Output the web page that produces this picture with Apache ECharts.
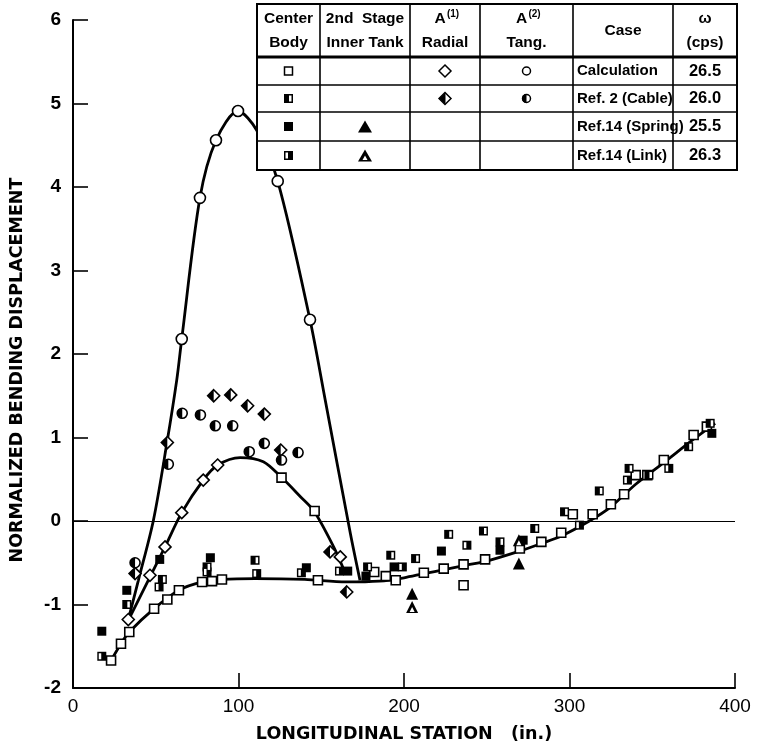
<!DOCTYPE html>
<html><head><meta charset="utf-8">
<script src="https://cdn.jsdelivr.net/npm/echarts@6/dist/echarts.min.js"></script>
<style>html,body{margin:0;padding:0;background:#fff}#c{width:763px;height:751px}</style>
</head><body><div id="c"></div><script>
const xTicks=[0,100,200,300,400];
const yTicks=[-2,-1,0,1,2,3,4,5,6];
const xTitle='LONGITUDINAL STATION   (in.)';
const yTitle='NORMALIZED BENDING DISPLACEMENT';
// curves
const tangCurve=[[33.4,-1.18],[39.5,-0.71],[48.6,0.01],[56.7,0.93],[62.7,1.69],[65.7,2.18],[76.7,3.87],[86.4,4.56],[99.7,4.91],[111,4.68],[123.7,4.07],[143.2,2.41],[152.4,1.45],[167.6,-0.15],[173.4,-0.71]];
const radialCurve=[[33.4,-1.19],[55.6,-0.31],[65.7,0.10],[78.7,0.49],[87.4,0.67],[101,0.76],[115,0.71],[126.1,0.52],[137,0.30],[145.6,0.12],[157.5,-0.31],[164,-0.60]];
const bodyCurve=[[23,-1.67],[29,-1.47],[34,-1.33],[49,-1.05],[64,-0.83],[78,-0.73],[90,-0.70],[110,-0.69],[140,-0.70],[165,-0.73],[185,-0.72],[200,-0.68],[212,-0.63],[225,-0.58],[237,-0.53],[250,-0.48],[270,-0.36],[283,-0.27],[295,-0.18],[312,0.0],[325,0.17],[340,0.44],[357,0.70],[375,0.98],[388,1.17]];
// markers
const calcBodyPts=[[23,-1.67],[29,-1.47],[34,-1.33],[49,-1.05],[57,-0.94],[64,-0.83],[78,-0.73],[84,-0.72],[90,-0.70],[126,0.52],[146,0.12],[148,-0.71],[182,-0.61],[189,-0.66],[195,-0.71],[212,-0.62],[224,-0.57],[236,-0.52],[236,-0.77],[249,-0.46],[270,-0.33],[283,-0.25],[295,-0.14],[302,0.08],[314,0.08],[325,0.20],[333,0.32],[340,0.55],[347,0.55],[357,0.73],[375,1.03],[383,1.13]];
const calcRadialPts=[[33.4,-1.18],[46.5,-0.65],[55.6,-0.31],[65.7,0.10],[78.7,0.49],[87.4,0.67],[161.5,-0.43]];
const calcTangPts=[[65.7,2.18],[76.7,3.87],[86.4,4.56],[99.7,4.91],[123.7,4.07],[143.2,2.41]];
const cableSqPts=[[32.5,-1.0],[54,-0.70],[81,-0.55],[110,-0.47],[178,-0.55],[192,-0.41],[207,-0.45],[227,-0.16],[248,-0.12],[258,-0.25],[279,-0.09],[297,0.11],[318,0.36],[336,0.63],[348,0.55],[372,0.89],[385,1.17]];
const springSqPts=[[17.4,-1.32],[32.5,-0.83],[52.4,-0.46],[83,-0.44],[141,-0.56],[166,-0.60],[177,-0.66],[194,-0.55],[222.6,-0.36],[258,-0.35],[272,-0.23],[386,1.05]];
const linkSqPts=[[17.4,-1.62],[52,-0.79],[81,-0.61],[111,-0.63],[138,-0.62],[161,-0.60],[199,-0.55],[238,-0.29],[306,-0.05],[335,0.49],[360,0.63]];
const cableDiaPts=[[37.5,-0.63],[57,0.94],[85,1.50],[95.3,1.51],[105.5,1.38],[115.6,1.28],[125.5,0.85],[155.3,-0.37],[165.4,-0.85]];
const cableCirPts=[[37.5,-0.5],[57.6,0.68],[66,1.29],[77,1.27],[86,1.14],[96.5,1.14],[106.5,0.83],[115.6,0.93],[126,0.73],[136,0.82]];
const springTriPts=[[204.9,-0.87],[269.4,-0.51]];
const linkTriPts=[[204.9,-1.03],[269.4,-0.23]];
// table text
const tableHeads=[["Center","Body"],["2nd  Stage","Inner Tank"],["","Radial"],["","Tang."],["Case"],["ω","(cps)"]];
const caseNames=["Calculation","Ref. 2 (Cable)","Ref.14 (Spring)","Ref.14 (Link)"];
const omegas=["26.5","26.0","25.5","26.3"];

const FONT='"Liberation Sans", Arial, sans-serif';
const TFONT='"DejaVu Sans", sans-serif';
const HALF_CIRCLE='path://M10,0 C4.48,0 0,4.48 0,10 C0,15.52 4.48,20 10,20 Z';
const HALF_DIAMOND='path://M10,0 L0,10 L10,20 Z';

function curve(d){return {type:'line',data:d,smooth:0.3,symbol:'none',lineStyle:{color:'#000',width:2.8},z:2,silent:true};}
function sc(d,symbol,size,fill,border,offset,z){
  return {type:'scatter',data:d,symbol:symbol,symbolSize:size,symbolOffset:offset||[0,0],
    itemStyle:{color:fill,borderColor:'#000',borderWidth:border,opacity:1},z:z||3,silent:true};
}
const series=[
  Object.assign(curve(bodyCurve),{markLine:{silent:true,symbol:['none','none'],label:{show:false},
     lineStyle:{color:'#000',width:1.2,type:'solid'},data:[{yAxis:0}]}}),
  curve(radialCurve),
  curve(tangCurve),
  sc(calcBodyPts,'rect',9,'#fff',1.6),
  sc(calcRadialPts,'diamond',12,'#fff',1.6),
  sc(calcTangPts,'circle',11,'#fff',1.6),
  sc(cableSqPts,'rect',9,'#000',0,null,4),
  sc(cableSqPts,'rect',[2.5,6],'#fff',0,[1.8,0],5),
  sc(springSqPts,'rect',9,'#000',0,null,4),
  sc(linkSqPts,'rect',9,'#000',0,null,4),
  sc(linkSqPts,'rect',[2.5,6],'#fff',0,[-1.8,0],5),
  sc(cableDiaPts,'diamond',12,'#fff',1.6,null,4),
  sc(cableDiaPts,HALF_DIAMOND,[6,12],'#000',0,[-3,0],5),
  sc(cableCirPts,'circle',10,'#fff',1.6,null,4),
  sc(cableCirPts,HALF_CIRCLE,[5,10],'#000',0,[-2.5,0],5),
  sc(springTriPts,'triangle',12,'#000',0,null,4),
  sc(linkTriPts,'triangle',12,'#000',0,null,4),
  sc(linkTriPts,'triangle',[5,5],'#fff',0,[0,2.5],5)
];

// table graphic
const cols=[257,320,410,480,573,673,737];
const rows=[4,57,85,112,141,170];
const G=[];
const Z=100;
G.push({type:'rect',z:Z,shape:{x:cols[0],y:rows[0],width:cols[6]-cols[0],height:rows[5]-rows[0]},style:{fill:'#fff',stroke:'#000',lineWidth:2}});
for(let i=1;i<cols.length-1;i++)G.push({type:'line',z:Z+1,shape:{x1:cols[i],y1:rows[0],x2:cols[i],y2:rows[5]},style:{stroke:'#000',lineWidth:1.6}});
for(let j=1;j<rows.length-1;j++)G.push({type:'line',z:Z+1,shape:{x1:cols[0],y1:rows[j],x2:cols[6],y2:rows[j]},style:{stroke:'#000',lineWidth:j===1?3:1.6}});
function txt(t,x,y,size,align,font){G.push({type:'text',z:Z+2,style:{text:t,x:x,y:y,fill:'#000',font:'bold '+size+'px '+(font||FONT),textAlign:align||'center',textVerticalAlign:'middle',align:align||'center',verticalAlign:'middle'}});}
tableHeads.forEach((h,i)=>{
  const cx=(cols[i]+cols[i+1])/2;
  if(h.length===1){txt(h[0],cx,31,15.5);}
  else{txt(h[0],cx,19,15.5);txt(h[1],cx,43,15.5);}
});
[[2,'(1)'],[3,'(2)']].forEach(([i,s])=>{
  const cx=(cols[i]+cols[i+1])/2;
  txt('A',cx-5,19,15.5);
  txt(s,cx+8,14,10);
});
const rc=[71,98.5,126.5,155.5];
caseNames.forEach((t,j)=>txt(t,cols[4]+4,rc[j],15,'left'));
omegas.forEach((t,j)=>txt(t,(cols[5]+cols[6])/2,rc[j],16.5));
const c1=(cols[0]+cols[1])/2, c2=(cols[1]+cols[2])/2, c3=(cols[2]+cols[3])/2, c4=(cols[3]+cols[4])/2;
function box(x,y,w,h,fill,lw){G.push({type:'rect',z:Z+2,shape:{x:x,y:y,width:w,height:h},style:{fill:fill,stroke:lw?'#000':null,lineWidth:lw||0}});}
box(c1-4,rc[0]-4,8,8,'#fff',1.5);
G.push({type:'polygon',z:Z+2,shape:{points:[[c3,rc[0]-6],[c3+6,rc[0]],[c3,rc[0]+6],[c3-6,rc[0]]]},style:{fill:'#fff',stroke:'#000',lineWidth:1.5}});
G.push({type:'circle',z:Z+2,shape:{cx:c4,cy:rc[0],r:4},style:{fill:'#fff',stroke:'#000',lineWidth:1.5}});
box(c1-4.5,rc[1]-4.5,9,9,'#000');box(c1+0.5,rc[1]-3,2.5,6,'#fff');
G.push({type:'polygon',z:Z+2,shape:{points:[[c3,rc[1]-6],[c3+6,rc[1]],[c3,rc[1]+6],[c3-6,rc[1]]]},style:{fill:'#fff',stroke:'#000',lineWidth:1.5}});
G.push({type:'polygon',z:Z+3,shape:{points:[[c3+0.5,rc[1]-6],[c3+0.5,rc[1]+6],[c3-6,rc[1]]]},style:{fill:'#000'}});
G.push({type:'circle',z:Z+2,shape:{cx:c4,cy:rc[1],r:4},style:{fill:'#fff',stroke:'#000',lineWidth:1.5}});
G.push({type:'sector',z:Z+3,shape:{cx:c4,cy:rc[1],r:4.5,startAngle:Math.PI/2,endAngle:Math.PI*1.5},style:{fill:'#000'}});
box(c1-4.5,rc[2]-4.5,9,9,'#000');
G.push({type:'polygon',z:Z+2,shape:{points:[[c2,rc[2]-6],[c2+7,rc[2]+6],[c2-7,rc[2]+6]]},style:{fill:'#000'}});
box(c1-4.5,rc[3]-4.5,9,9,'#000');box(c1-3,rc[3]-3,2.5,6,'#fff');
G.push({type:'polygon',z:Z+2,shape:{points:[[c2,rc[3]-6],[c2+7,rc[3]+6],[c2-7,rc[3]+6]]},style:{fill:'#000'}});
G.push({type:'polygon',z:Z+3,shape:{points:[[c2,rc[3]],[c2+2.5,rc[3]+4.5],[c2-2.5,rc[3]+4.5]]},style:{fill:'#fff'}});
// y axis title (rotated text)
G.push({type:'text',z:Z,x:17,y:370,rotation:Math.PI/2,style:{text:yTitle,x:0,y:0,fill:'#000',font:'bold 17.5px '+TFONT,textAlign:'center',textVerticalAlign:'middle',align:'center',verticalAlign:'middle'}});

const chart=echarts.init(document.getElementById('c'),null,{renderer:'canvas'});
chart.setOption({
  animation:false,
  backgroundColor:'#fff',
  grid:{left:73,right:28,top:20,bottom:63},
  xAxis:{type:'value',min:xTicks[0],max:xTicks[xTicks.length-1],interval:xTicks[1]-xTicks[0],
    axisLine:{show:true,onZero:false,lineStyle:{color:'#000',width:2}},
    axisTick:{show:true,inside:true,length:15,lineStyle:{color:'#000',width:1.6}},
    axisLabel:{color:'#000',fontSize:19,margin:9,fontFamily:FONT},
    splitLine:{show:false},
    name:xTitle,nameLocation:'middle',nameGap:37,
    nameTextStyle:{color:'#000',fontSize:17.5,fontWeight:'bold',fontFamily:TFONT}},
  yAxis:{type:'value',min:yTicks[0],max:yTicks[yTicks.length-1],interval:yTicks[1]-yTicks[0],
    axisLine:{show:true,onZero:false,lineStyle:{color:'#000',width:2}},
    axisTick:{show:true,inside:true,length:15,lineStyle:{color:'#000',width:1.6}},
    axisLabel:{color:'#000',fontSize:19,margin:12,fontFamily:FONT,fontWeight:'bold'},
    splitLine:{show:false}},
  series:series,
  graphic:{elements:G}
});
</script></body></html>
